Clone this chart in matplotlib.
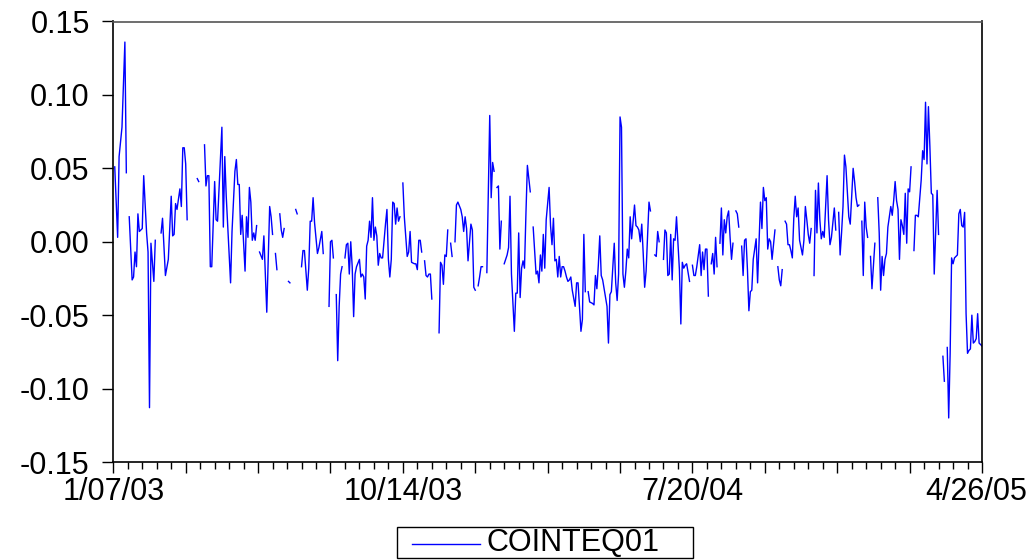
import numpy as np
import matplotlib
matplotlib.use("Agg")
import matplotlib.pyplot as plt
import matplotlib.transforms as mtransforms
from matplotlib.ticker import MultipleLocator
from matplotlib.patches import Rectangle
from matplotlib.lines import Line2D

nan = float("nan")

# observation number (5-day weekly, 0 = 1/07/03) ; nan entries are missing obs
obs_day = [
    1, 3, 4, 6, 8, 9, 10,
    11, 13, 14, 15, 16, 17, 18, 20, 21, 23, 24, 25, 26, 28, 29, 31,
    33, 34, 36, 38, 40, 41, 42, 43, 44, 46, 47, 48, 49, 50, 51, 55,
    58, 59, 61,
    63, 64, 65, 66, 67, 68, 70, 71, 72, 75, 76, 77, 78, 80, 81, 82, 84, 85, 86, 87, 88, 89, 91, 92, 93, 94, 95, 96, 97, 98, 99, 100,
    101, 103, 104, 106, 108, 109, 110, 111,
    112, 113, 114,
    115, 116, 117, 118, 119,
    121, 122, 123,
    126, 127, 128,
    130, 131, 132, 134, 135, 136, 137, 138, 139, 141, 142, 144, 145, 147,
    149, 150, 151, 152, 153,
    154, 155, 156, 157, 158, 159,
    160, 161, 162, 163, 164, 165, 166, 167, 168, 170, 171, 172, 173, 174, 175, 176, 177, 178, 179, 180, 181, 182, 183, 184, 185, 186, 188, 189, 190, 191, 192, 193, 194, 195, 196, 197, 198, 199,
    200, 201, 203, 204, 205, 206, 208, 209, 210, 211, 212, 213, 214,
    215, 216, 217, 218, 219, 220, 222,
    225, 226, 227, 228, 229, 230, 231, 232,
    233, 234, 235,
    236, 237, 238, 240, 241, 242, 243, 244, 245, 247, 248, 249, 250, 251,
    252, 253, 254, 255, 256,
    258, 260, 261, 262, 263, 264,
    265, 266, 267, 268, 269,
    270, 272, 273, 274, 275, 277, 278, 279, 280, 281, 282, 283, 284, 285, 286, 288, 289,
    290, 292, 293, 294, 295, 296, 297, 298, 299, 301, 302, 303, 304, 305, 306, 307, 308, 309, 310, 311, 312, 313, 314, 315, 316, 317, 319, 320, 321, 322, 323, 324, 325, 326, 327,
    328, 329, 331, 332, 333, 334, 335, 336, 337, 338, 339, 341, 342, 343, 344, 346, 347, 348, 349, 350, 351, 352, 353, 354, 355, 356, 357, 358, 360, 361, 362, 363, 364, 365, 366, 367, 368, 369, 370, 371, 372,
    374, 375, 376, 377, 378,
    380, 381, 382, 383, 384, 385, 386, 387, 388, 389, 391, 392, 393, 394, 395, 396, 398, 399,
    400, 401, 402, 403, 405, 406, 407, 408, 409, 410, 411, 412,
    413, 414, 415, 416, 417, 418,
    419, 420, 421, 422, 423, 424, 425, 426, 427, 428, 429,
    430, 431, 432, 433,
    434, 435, 436, 437, 438, 439, 440, 441, 442, 444, 445, 447, 448, 449, 450, 451, 452, 453, 454, 455, 457, 458,
    459, 460, 461, 462, 463,
    464, 465, 466, 467, 468, 469, 470, 471, 472, 473, 474, 476, 477, 478, 479, 480, 481, 482, 483,
    484, 485, 486, 487, 488, 489, 490, 491, 493, 494, 495, 496, 498, 499, 500,
    501, 502, 503, 504, 505, 506, 508, 509, 511, 512, 513, 514, 515, 516,
    517, 518, 519, 520, 521, 522,
    523, 524, 525, 526, 527,
    528, 529, 530, 531, 532, 533, 534, 535, 537, 538, 539, 540, 541, 542, 543, 544, 545, 546, 547, 548, 549, 550, 551, 552,
    553, 554, 555, 556, 558, 559, 560, 561, 562, 563, 564, 565, 566, 567, 569, 570, 571,
    573, 574, 575,
    576, 577, 578, 579, 580, 581, 582, 583, 584, 585, 586, 587, 588, 589, 590, 591, 592, 593, 594, 595, 596, 597, 598, 599, 600,
]

cointeq01 = [
    0.051, 0.003, 0.058, 0.078, 0.136, 0.047, nan,
    0.017, -0.026, -0.024, -0.007, -0.017, 0.019, 0.007, 0.009, 0.045, 0.006, -0.007, -0.113, -0.001, -0.027, 0.001, nan,
    0.006, 0.016, -0.023, -0.012, 0.031, 0.004, 0.005, 0.026, 0.022, 0.036, 0.024, 0.064, 0.064, 0.053, 0.015, nan,
    0.043, 0.041, nan,
    0.066, 0.038, 0.045, 0.045, -0.017, -0.017, 0.041, 0.015, 0.014, 0.078, 0.010, 0.058, 0.031, -0.008, -0.028, 0.007, 0.048, 0.056, 0.039, 0.039, 0.005, 0.018, -0.020, 0.017, 0.003, 0.037, 0.027, 0.001, 0.006, 0.001, 0.011, nan,
    -0.007, -0.012, 0.004, -0.048, 0.024, 0.017, 0.005, nan,
    -0.008, -0.019, nan,
    0.019, 0.008, 0.003, 0.009, nan,
    -0.027, -0.028, nan,
    0.022, 0.019, nan,
    -0.017, -0.006, -0.006, -0.033, -0.018, 0.014, 0.014, 0.030, 0.013, -0.008, -0.004, 0.007, -0.008, nan,
    -0.044, 0.000, 0.001, -0.011, nan,
    -0.036, -0.081, -0.044, -0.022, -0.017, nan,
    -0.011, -0.002, -0.001, -0.022, 0.000, -0.017, -0.051, -0.022, -0.017, -0.012, -0.024, -0.022, -0.024, -0.039, -0.003, 0.001, 0.014, 0.003, 0.030, 0.001, 0.010, 0.004, -0.016, -0.008, -0.011, -0.011, 0.012, 0.022, -0.012, -0.024, -0.012, 0.027, 0.026, 0.012, 0.023, 0.014, 0.017, nan,
    0.040, 0.017, -0.010, -0.007, 0.007, -0.014, -0.015, -0.015, -0.019, 0.001, 0.001, -0.007, nan,
    -0.013, -0.023, -0.024, -0.022, -0.022, -0.039, nan,
    -0.062, -0.014, -0.016, -0.029, -0.009, -0.010, 0.008, nan,
    -0.001, -0.010, nan,
    0.000, 0.025, 0.027, 0.022, 0.017, 0.007, 0.017, 0.009, -0.013, 0.012, 0.008, -0.031, -0.033, nan,
    -0.030, -0.024, -0.017, -0.017, nan,
    -0.021, 0.086, 0.030, 0.054, 0.048, nan,
    0.037, 0.038, -0.005, 0.014, nan,
    -0.015, -0.009, -0.004, 0.031, -0.022, -0.061, -0.035, -0.035, 0.006, -0.038, -0.018, -0.013, -0.018, 0.019, 0.052, 0.034, nan,
    0.010, -0.022, -0.020, -0.028, -0.009, -0.020, 0.005, -0.018, 0.015, 0.037, 0.011, -0.002, 0.016, -0.013, -0.012, -0.024, -0.010, -0.024, -0.017, -0.017, -0.020, -0.024, -0.027, -0.026, -0.024, -0.033, -0.044, -0.028, -0.028, -0.044, -0.061, -0.053, 0.005, -0.034, nan,
    -0.034, -0.041, -0.042, -0.043, -0.023, -0.032, -0.016, 0.004, -0.023, -0.026, -0.032, -0.044, -0.069, -0.036, -0.034, -0.001, -0.028, -0.040, -0.022, 0.085, 0.078, -0.022, -0.031, -0.020, -0.005, -0.011, 0.017, 0.002, 0.025, 0.011, 0.010, 0.008, 0.000, 0.012, -0.008, -0.031, -0.020, 0.003, 0.027, 0.021, nan,
    -0.009, -0.010, 0.007, 0.000, nan,
    -0.012, 0.008, 0.006, -0.023, -0.022, 0.005, -0.026, 0.002, 0.001, 0.017, -0.019, -0.056, -0.014, -0.018, -0.016, -0.015, -0.027, nan,
    -0.016, -0.023, -0.023, -0.017, -0.002, -0.023, -0.007, -0.019, -0.005, -0.005, -0.037, nan,
    -0.015, -0.008, -0.022, 0.003, -0.017, nan,
    -0.001, 0.023, -0.009, 0.015, 0.006, 0.017, 0.021, 0.003, -0.012, -0.001, nan,
    0.021, 0.019, 0.010, nan,
    -0.003, -0.023, 0.001, 0.002, -0.019, -0.047, -0.034, -0.033, -0.012, 0.002, -0.028, 0.027, 0.009, 0.037, 0.028, 0.030, -0.005, 0.002, 0.000, -0.012, 0.008, nan,
    -0.017, -0.026, -0.030, -0.019, nan,
    0.014, 0.012, -0.002, -0.002, -0.006, -0.011, 0.016, 0.031, 0.017, 0.023, 0.001, -0.009, 0.001, 0.024, 0.015, 0.005, -0.001, 0.009, nan,
    -0.023, 0.035, 0.006, 0.040, 0.015, 0.002, 0.007, 0.003, 0.045, 0.015, -0.002, 0.003, 0.023, 0.008, nan,
    0.020, -0.009, 0.006, 0.024, 0.059, 0.051, 0.017, 0.012, 0.050, 0.041, 0.030, 0.024, 0.025, nan,
    0.014, -0.023, 0.027, 0.010, 0.003, nan,
    -0.010, -0.032, -0.017, -0.001, nan,
    0.030, 0.006, -0.033, -0.010, -0.023, -0.012, -0.008, 0.010, 0.024, 0.018, 0.028, 0.041, 0.028, 0.022, -0.012, 0.015, 0.011, 0.005, 0.033, -0.001, 0.036, 0.034, 0.051, nan,
    -0.006, 0.018, 0.018, 0.017, 0.042, 0.062, 0.056, 0.095, 0.053, 0.092, 0.065, 0.033, 0.032, -0.022, 0.035, 0.005, nan,
    -0.078, -0.095, nan,
    -0.072, -0.120, -0.076, -0.011, -0.015, -0.011, -0.010, -0.009, 0.019, 0.022, 0.011, 0.010, 0.020, -0.049, -0.076, -0.074, -0.073, -0.050, -0.069, -0.068, -0.066, -0.049, -0.069, -0.070, -0.071,
]

assert len(obs_day) == len(cointeq01), (len(obs_day), len(cointeq01))

date_tick_obs = [0, 200, 400, 600]
date_tick_labels = ["1/07/03", "10/14/03", "7/20/04", "4/26/05"]
y_ticks = [-0.15, -0.10, -0.05, 0.00, 0.05, 0.10, 0.15]
series_name = "COINTEQ01"

plt.rcParams["font.family"] = ["Liberation Sans", "DejaVu Sans"]
FS = 22

W, H = 1032, 560
fig = plt.figure(figsize=(W / 100, H / 100), dpi=100)
ax = fig.add_axes([113.3 / W, 1 - 462 / H, (982 - 113.3) / W, (462 - 21.5) / H])

line, = ax.plot(obs_day, cointeq01, color="#0000FF", lw=1.0, label=series_name)

ax.set_xlim(0, 600)
ax.set_ylim(-0.15, 0.15)

major_pos = list(range(0, 601, 50))
ax.set_xticks(major_pos)
ax.set_xticklabels([date_tick_labels[date_tick_obs.index(p)] if p in date_tick_obs else "" for p in major_pos])
ax.xaxis.set_minor_locator(MultipleLocator(10))
ax.set_yticks(y_ticks)
ax.set_yticklabels(["%.2f" % v for v in y_ticks])

ax.tick_params(axis="both", which="major", labelsize=FS, colors="black", width=1.0, direction="out")
ax.tick_params(axis="x", which="major", length=8, pad=3)
ax.tick_params(axis="x", which="minor", length=5, width=1.0, direction="out")
ax.tick_params(axis="y", which="major", length=8, pad=9)

# keep the last date label inside the figure
last = [t for t in ax.get_xticklabels() if t.get_text() == date_tick_labels[-1]][0]
last.set_transform(last.get_transform() + mtransforms.ScaledTranslation(-6 / 100, 0, fig.dpi_scale_trans))

for s in ["left", "bottom", "right"]:
    ax.spines[s].set_color("black")
    ax.spines[s].set_linewidth(1.2)
ax.spines["top"].set_color("#555555")
ax.spines["top"].set_linewidth(1.2)

# legend box below the plot, drawn in figure pixel coordinates
px = mtransforms.Affine2D().scale(1 / W, -1 / H).translate(0, 1) + fig.transFigure
fig.add_artist(Rectangle((397, 527), 296, 31, transform=px, fill=False, edgecolor="black", lw=1.0))
fig.add_artist(Line2D([412, 480], [544, 544], transform=px, color=line.get_color(), lw=1.0))
fig.text(487, 543, series_name, transform=px, fontsize=FS, ha="left", va="center", color="black")

fig.savefig("out.png", dpi=100)
